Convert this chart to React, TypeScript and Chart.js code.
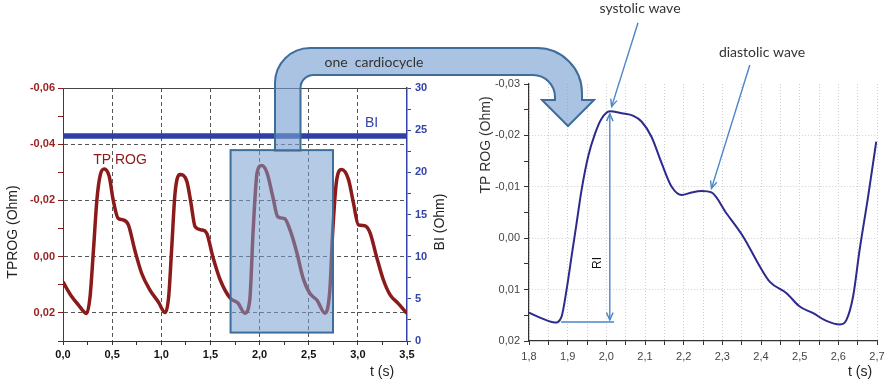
import React, { useEffect, useRef } from 'react';
import { Chart, registerables } from 'chart.js';

Chart.register(...registerables);

const W = 892;
const H = 385;

// ---------- Left chart data (TP ROG and BI over 0..3.5 s) ----------
const tprogTime = [
  0, 0.09, 0.16, 0.24, 0.275, 0.31, 0.345, 0.38, 0.42, 0.47, 0.51, 0.56, 0.61, 0.665, 0.73, 0.8,
  0.885, 0.97, 1.04, 1.075, 1.105, 1.14, 1.19, 1.26, 1.3, 1.345, 1.41, 1.46, 1.525, 1.6, 1.7,
  1.78, 1.85, 1.9, 1.935, 1.975, 2.02, 2.075, 2.135, 2.185, 2.255, 2.31, 2.38, 2.44, 2.51, 2.585,
  2.665, 2.715, 2.745, 2.785, 2.835, 2.905, 2.955, 3.005, 3.07, 3.125, 3.19, 3.26, 3.33, 3.41, 3.5,
];
const tprogValue = [
  0.009, 0.0143, 0.0173, 0.0202, 0.0143, -0.0024, -0.0203, -0.0292, -0.0312, -0.0286, -0.0203,
  -0.0137, -0.0131, -0.0113, -0.0024, 0.0059, 0.0119, 0.0161, 0.0199, 0.0143, -0.0024, -0.0226,
  -0.0292, -0.0268, -0.0195, -0.0106, -0.0095, -0.0085, 0.0001, 0.0083, 0.0147, 0.0165, 0.0201,
  0.0155, -0.0095, -0.0299, -0.0324, -0.0299, -0.0213, -0.0142, -0.0135, -0.0095, -0.0013, 0.0073,
  0.013, 0.0155, 0.0201, 0.0119, -0.0095, -0.0274, -0.031, -0.0274, -0.0191, -0.0113, -0.011,
  -0.0084, 0.0, 0.0083, 0.0137, 0.0166, 0.0202,
];
const biTime = [0, 3.5];
const biValue = [24.3, 24.3];

const leftXMajor = [0, 0.5, 1, 1.5, 2, 2.5, 3, 3.5];
const leftXLabels = ['0,0', '0,5', '1,0', '1,5', '2,0', '2,5', '3,0', '3,5'];
const leftYMajor = [-0.06, -0.04, -0.02, 0, 0.02];
const leftYLabels = ['-0,06', '-0,04', '-0,02', '0,00', '0,02'];
const biMajor = [0, 5, 10, 15, 20, 25, 30];
const biLabels = ['0', '5', '10', '15', '20', '25', '30'];

// highlighted cardiocycle box (time range, TP ROG range)
const boxTime = [1.705, 2.747];
const boxValue = [-0.0379, 0.027];

// ---------- Right chart data (one cardiocycle, 1.8..2.7 s) ----------
const zoomTime = [
  1.8, 1.833, 1.867, 1.884, 1.897, 1.91, 1.923, 1.936, 1.953, 1.971, 1.988, 2.009, 2.04, 2.07,
  2.091, 2.117, 2.143, 2.169, 2.195, 2.22, 2.246, 2.272, 2.311, 2.354, 2.397, 2.423, 2.466, 2.5,
  2.535, 2.569, 2.604, 2.621, 2.638, 2.655, 2.677, 2.698,
];
const zoomValue = [
  0.0145, 0.0156, 0.0164, 0.0153, 0.0101, 0.0036, -0.0029, -0.0094, -0.0159, -0.0204, -0.0233,
  -0.0247, -0.0243, -0.0238, -0.0227, -0.0197, -0.0146, -0.01, -0.0084, -0.0089, -0.0092, -0.0089,
  -0.0048, -0.0003, 0.0055, 0.0085, 0.0107, 0.0133, 0.0146, 0.0161, 0.0168, 0.0159, 0.0114,
  0.0023, -0.0081, -0.0188,
];
const rightXMajor = [1.8, 1.9, 2.0, 2.1, 2.2, 2.3, 2.4, 2.5, 2.6, 2.7];
const rightXLabels = ['1,8', '1,9', '2,0', '2,1', '2,2', '2,3', '2,4', '2,5', '2,6', '2,7'];
const rightYMajor = [-0.03, -0.02, -0.01, 0, 0.01, 0.02];
const rightYLabels = ['-0,03', '-0,02', '-0,01', '0,00', '0,01', '0,02'];

// annotation anchors (time, value) on right chart
const riTime = 2.009;
const riRange = [-0.0242, 0.0159];
const riBase = [1.883, 2.02, 0.0163];
const systolicArrow = [2.082, -0.0419, 2.0137, -0.0256];
const diastolicArrow = [2.371, -0.0337, 2.272, -0.0097];

const DARKRED = '#8b1a1a';
const BLUE = '#3343aa';
const ANNOT = '#4a86c8';
const SANS = '"Liberation Sans", Arial, sans-serif';
const CAL = 'Lato, "Open Sans", sans-serif';

const idxOf = (arr: number[], v: number) => arr.findIndex((m) => Math.abs(m - v) < 1e-9);

function drawText(
  ctx: CanvasRenderingContext2D, s: string, x: number, y: number, font: string, color: string, rot = 0,
) {
  ctx.save();
  ctx.translate(x, y);
  ctx.rotate(rot);
  ctx.font = font;
  ctx.fillStyle = color;
  ctx.textAlign = 'center';
  ctx.textBaseline = 'middle';
  ctx.fillText(s, 0, 0);
  ctx.restore();
}

function head(ctx: CanvasRenderingContext2D, x: number, y: number, ang: number, len: number) {
  const a = 0.42;
  ctx.beginPath();
  ctx.moveTo(x - len * Math.cos(ang - a), y - len * Math.sin(ang - a));
  ctx.lineTo(x, y);
  ctx.lineTo(x - len * Math.cos(ang + a), y - len * Math.sin(ang + a));
  ctx.stroke();
}

function arrow(ctx: CanvasRenderingContext2D, x1: number, y1: number, x2: number, y2: number, both = false) {
  ctx.beginPath();
  ctx.moveTo(x1, y1);
  ctx.lineTo(x2, y2);
  ctx.stroke();
  head(ctx, x2, y2, Math.atan2(y2 - y1, x2 - x1), 8);
  if (both) head(ctx, x1, y1, Math.atan2(y1 - y2, x1 - x2), 8);
}

const leftPlugin = {
  id: 'leftDecor',
  afterDatasetsDraw(chart: any) {
    const { ctx, scales } = chart;
    const x1 = scales.x.getPixelForValue(boxTime[0]);
    const x2 = scales.x.getPixelForValue(boxTime[1]);
    const y1 = scales.y.getPixelForValue(boxValue[0]);
    const y2 = scales.y.getPixelForValue(boxValue[1]);
    ctx.save();
    ctx.fillStyle = 'rgba(120,158,208,0.55)';
    ctx.fillRect(x1, y1, x2 - x1, y2 - y1);
    ctx.strokeStyle = '#3e6d9c';
    ctx.lineWidth = 2;
    ctx.strokeRect(x1, y1, x2 - x1, y2 - y1);
    ctx.restore();
  },
  afterDraw(chart: any) {
    const { ctx, chartArea: a } = chart;
    ctx.save();
    ctx.strokeStyle = '#444';
    ctx.lineWidth = 1;
    ctx.beginPath();
    ctx.moveTo(a.left, a.top + 0.5);
    ctx.lineTo(a.right, a.top + 0.5);
    ctx.stroke();
    ctx.restore();
    drawText(ctx, 'TPROG (Ohm)', 13, 232, `14px ${SANS}`, '#222', -Math.PI / 2);
    drawText(ctx, 'BI (Ohm)', 440, 222, `14px ${SANS}`, '#222', -Math.PI / 2);
    drawText(ctx, 't (s)', 382, 372, `14px ${SANS}`, '#222');
    drawText(ctx, 'TP ROG', 120, 160, `14px ${SANS}`, DARKRED);
    drawText(ctx, 'BI', 371.5, 123, `14px ${SANS}`, BLUE);
  },
};

const rightPlugin = {
  id: 'rightDecor',
  afterDraw(chart: any) {
    const { ctx, scales } = chart;
    const px = (t: number) => scales.x.getPixelForValue(t);
    const py = (v: number) => scales.y.getPixelForValue(v);

    // big "one cardiocycle" arrow
    const L1 = 275, L2 = 300.5, B = 150.5, T1 = 48, T2 = 75, R2 = 555, R1 = 582, HY = 100;
    ctx.save();
    ctx.beginPath();
    ctx.moveTo(L1, B);
    ctx.lineTo(L1, T1 + 35);
    ctx.arcTo(L1, T1, L1 + 35, T1, 35);
    ctx.lineTo(R1 - 45, T1);
    ctx.arcTo(R1, T1, R1, T1 + 45, 45);
    ctx.lineTo(R1, HY);
    ctx.lineTo(594, HY);
    ctx.lineTo(568, 126);
    ctx.lineTo(542, HY);
    ctx.lineTo(R2, HY);
    ctx.lineTo(R2, T2 + 22);
    ctx.arcTo(R2, T2, R2 - 22, T2, 22);
    ctx.lineTo(L2 + 13, T2);
    ctx.arcTo(L2, T2, L2, T2 + 13, 13);
    ctx.lineTo(L2, B);
    ctx.closePath();
    ctx.fillStyle = 'rgba(120,158,208,0.62)';
    ctx.fill();
    ctx.strokeStyle = '#3e6d9c';
    ctx.lineWidth = 2;
    ctx.stroke();
    ctx.restore();
    drawText(ctx, 'one  cardiocycle', 374, 62, `14px ${CAL}`, '#333');

    // annotations
    ctx.save();
    ctx.strokeStyle = ANNOT;
    ctx.lineWidth = 1.4;
    arrow(ctx, px(riTime), py(riRange[0]), px(riTime), py(riRange[1]), true);
    ctx.beginPath();
    ctx.moveTo(px(riBase[0]), py(riBase[2]));
    ctx.lineTo(px(riBase[1]), py(riBase[2]));
    ctx.stroke();
    arrow(ctx, px(systolicArrow[0]), py(systolicArrow[1]), px(systolicArrow[2]), py(systolicArrow[3]));
    arrow(ctx, px(diastolicArrow[0]), py(diastolicArrow[1]), px(diastolicArrow[2]), py(diastolicArrow[3]));
    ctx.restore();
    drawText(ctx, 'systolic wave', 640, 8, `14px ${CAL}`, '#333');
    drawText(ctx, 'diastolic wave', 762, 52, `14px ${CAL}`, '#333');
    drawText(ctx, 'RI', 598, 263, `12px ${SANS}`, '#111', -Math.PI / 2);
    drawText(ctx, 'TP ROG (Ohm)', 486, 145, `14px ${SANS}`, '#333', -Math.PI / 2);
    drawText(ctx, 't (s)', 860, 372, `14px ${SANS}`, '#222');
  },
};

function leftConfig(): any {
  return {
    type: 'line',
    data: {
      datasets: [
        {
          label: 'TP ROG',
          data: tprogTime.map((t, i) => ({ x: t, y: tprogValue[i] })),
          borderColor: DARKRED,
          borderWidth: 3.5,
          pointRadius: 0,
          cubicInterpolationMode: 'monotone',
          xAxisID: 'x',
          yAxisID: 'y',
        },
        {
          label: 'BI',
          data: biTime.map((t, i) => ({ x: t, y: biValue[i] })),
          borderColor: '#2e3fa6',
          borderWidth: 5.5,
          pointRadius: 0,
          xAxisID: 'x',
          yAxisID: 'y2',
        },
      ],
    },
    options: {
      responsive: false,
      animation: false,
      events: [],
      layout: { padding: { left: 0, top: 88, right: 425, bottom: 0 } },
      plugins: { legend: { display: false }, tooltip: { enabled: false } },
      scales: {
        x: {
          type: 'linear',
          min: 0,
          max: 3.5,
          afterFit: (s: any) => { s.height = 44; },
          ticks: {
            stepSize: 0.25,
            autoSkip: false,
            maxRotation: 0,
            padding: 3,
            color: '#111',
            font: { family: SANS, size: 11, weight: 'bold' },
            callback: (v: number) => { const i = idxOf(leftXMajor, v); return i >= 0 ? leftXLabels[i] : ''; },
          },
          grid: {
            color: (c: any) => {
              const v = c.tick.value;
              return idxOf(leftXMajor, v) > 0 && v < 3.5 - 1e-9 ? '#555' : 'rgba(0,0,0,0)';
            },
            tickColor: '#333',
            tickLength: 4,
          },
          border: { color: '#333', width: 1, dash: [4, 3] },
        },
        y: {
          type: 'linear',
          position: 'left',
          reverse: true,
          min: -0.06,
          max: 0.03,
          afterFit: (s: any) => { s.width = 63; },
          ticks: {
            stepSize: 0.01,
            autoSkip: false,
            padding: 3,
            color: '#9a2222',
            font: { family: SANS, size: 11, weight: 'bold' },
            callback: (v: number) => { const i = idxOf(leftYMajor, v); return i >= 0 ? leftYLabels[i] : ''; },
          },
          grid: {
            color: (c: any) => (idxOf(leftYMajor, c.tick.value) > 0 ? '#555' : 'rgba(0,0,0,0)'),
            tickColor: DARKRED,
            tickLength: 5,
          },
          border: { color: DARKRED, width: 1, dash: [4, 3] },
        },
        y2: {
          type: 'linear',
          position: 'right',
          min: 0,
          max: 30,
          afterFit: (s: any) => { s.width = 60; },
          ticks: {
            stepSize: 2.5,
            autoSkip: false,
            padding: 4,
            color: BLUE,
            font: { family: SANS, size: 11, weight: 'bold' },
            callback: (v: number) => { const i = idxOf(biMajor, v); return i >= 0 ? biLabels[i] : ''; },
          },
          grid: { drawOnChartArea: false, tickColor: BLUE, tickLength: 4 },
          border: { color: BLUE, width: 1.5 },
        },
      },
    },
    plugins: [leftPlugin],
  };
}

function rightConfig(): any {
  return {
    type: 'line',
    data: {
      datasets: [
        {
          label: 'TP ROG',
          data: zoomTime.map((t, i) => ({ x: t, y: zoomValue[i] })),
          borderColor: '#2d2a8e',
          borderWidth: 2,
          pointRadius: 0,
          cubicInterpolationMode: 'monotone',
        },
      ],
    },
    options: {
      responsive: false,
      animation: false,
      events: [],
      layout: { padding: { left: 469, top: 84, right: 15, bottom: 0 } },
      plugins: { legend: { display: false }, tooltip: { enabled: false } },
      scales: {
        x: {
          type: 'linear',
          min: 1.8,
          max: 2.7,
          afterFit: (s: any) => { s.height = 44; },
          ticks: {
            stepSize: 0.05,
            autoSkip: false,
            maxRotation: 0,
            padding: 5,
            color: '#444',
            font: { family: SANS, size: 11 },
            callback: (v: number) => { const i = idxOf(rightXMajor, v); return i >= 0 ? rightXLabels[i] : ''; },
          },
          grid: { color: '#cfcfcf', tickColor: '#333', tickLength: 4 },
          border: { color: '#333', width: 1.2, dash: [1, 2] },
        },
        y: {
          type: 'linear',
          reverse: true,
          min: -0.03,
          max: 0.02,
          afterFit: (s: any) => { s.width = 60; },
          ticks: {
            stepSize: 0.005,
            autoSkip: false,
            padding: 4,
            color: '#444',
            font: { family: SANS, size: 11 },
            callback: (v: number) => { const i = idxOf(rightYMajor, v); return i >= 0 ? rightYLabels[i] : ''; },
          },
          grid: {
            color: (c: any) => {
              const i = idxOf(rightYMajor, c.tick.value);
              return i > 0 && i < rightYMajor.length - 1 ? '#cfcfcf' : 'rgba(0,0,0,0)';
            },
            tickColor: '#333',
            tickLength: 5,
          },
          border: { color: '#333', width: 1.2, dash: [1, 2] },
        },
      },
    },
    plugins: [rightPlugin],
  };
}

export default function App() {
  const leftRef = useRef<HTMLCanvasElement>(null);
  const rightRef = useRef<HTMLCanvasElement>(null);
  useEffect(() => {
    const left = new Chart(leftRef.current as HTMLCanvasElement, leftConfig());
    const right = new Chart(rightRef.current as HTMLCanvasElement, rightConfig());
    return () => {
      left.destroy();
      right.destroy();
    };
  }, []);
  return (
    <div style={{ position: 'absolute', left: 0, top: 0, width: W, height: H, background: '#fff' }}>
      <canvas ref={leftRef} width={W} height={H} style={{ position: 'absolute', left: 0, top: 0 }} />
      <canvas ref={rightRef} width={W} height={H} style={{ position: 'absolute', left: 0, top: 0 }} />
    </div>
  );
}
